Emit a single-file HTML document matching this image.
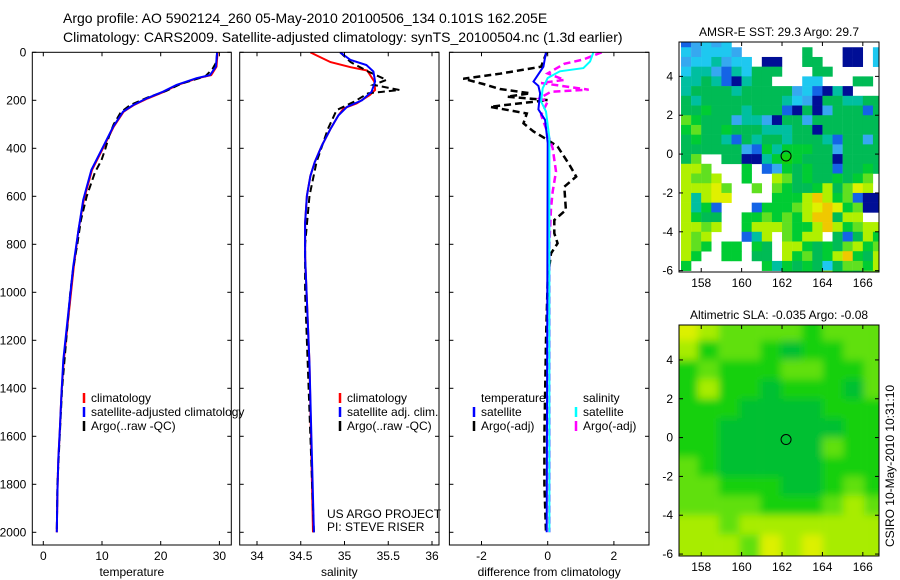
<!DOCTYPE html>
<html><head><meta charset="utf-8"><style>
body{margin:0;background:#fff}
svg{display:block;font-family:"Liberation Sans",sans-serif}
text{fill:#000}
</style></head><body>
<svg id="s" width="900" height="580" viewBox="0 0 900 580" xmlns="http://www.w3.org/2000/svg">
<text x="63" y="23" font-size="14">Argo profile: AO 5902124_260 05-May-2010 20100506_134 0.101S 162.205E</text>
<text x="63" y="42" font-size="14">Climatology: CARS2009. Satellite-adjusted climatology: synTS_20100504.nc (1.3d earlier)</text>
<g id="root"></g>
</svg>
<script>
// ---- data ----
const tempP   = [0,60,95,108,136,164,192,220,247,310,393,490,615,740,893,1282,1420,1559,1698,1837,2000];
const tempSat = [29.6,29.4,28.4,26.1,22.7,20.4,17.6,15.3,13.6,11.9,10.2,8.2,6.8,6.0,5.1,3.4,3.1,2.85,2.55,2.4,2.3];
const tempClim= [29.7,29.5,28.6,26.3,22.9,20.6,17.8,15.4,13.7,12.0,10.3,8.3,6.9,6.0,5.2,3.5,3.1,2.85,2.55,2.4,2.3];
const argoTP  = [0,40,70,100,130,160,190,220,250,300,350,400,450,500,600,700,800,900,1000,1200,1400,1600,1800,2000];
const argoT   = [29.6,29.5,28.8,27.6,23.6,21.0,17.6,14.8,13.2,12.0,11.2,10.6,9.9,8.8,7.4,6.4,5.8,5.1,4.6,3.9,3.2,2.8,2.4,2.3];
const salP    = [0,32,53,80,122,164,200,227,263,319,389,458,515,598,711,850,1300,2000];
const salSat  = [34.95,35.07,35.25,35.33,35.35,35.31,35.20,35.03,34.93,34.84,34.74,34.66,34.61,34.57,34.55,34.55,34.60,34.65];
const salClimP= [0,13,41,62,76,122,157,178,213,234,263,319,389,458,515,598,711,850,1300,2000];
const salClim = [34.61,34.68,34.84,35.07,35.26,35.34,35.35,35.29,35.14,34.99,34.93,34.84,34.74,34.66,34.61,34.57,34.55,34.55,34.60,34.64];
const argoSP  = [0,41,80,115,136,157,171,206,241,319,458,598,800,1000,1500,2000];
const argoS   = [34.95,35.07,35.27,35.48,35.33,35.63,35.27,35.11,34.91,34.81,34.68,34.60,34.55,34.55,34.60,34.65];
const dTP     = [0,60,89,110,132,153,171,185,199,227,255,296,330,365,393,469,518,560,657,699,754,796,838,950,1200,1600,1800,2000];
const dTArgo  = [-0.03,-0.2,-1.44,-2.55,-1.95,-1.44,-0.53,-1.23,0.0,-1.74,-0.63,-0.73,-0.43,0.0,0.3,0.66,0.86,0.5,0.55,0.2,0.2,0.3,0.1,0.0,-0.05,-0.1,-0.1,-0.05];
const dSP     = [0,30,48,88,115,128,156,164,192,205,261,317,400,497,580,650,800,2000];
const dSArgo  = [1.63,1.08,0.5,0.0,0.5,-0.2,1.24,0.1,-0.25,0.0,-0.2,-0.05,0.15,0.25,0.15,0.1,0.05,0.05];
const dTSatP  = [0,60,122,140,171,238,282,378,2000];
const dTSat   = [-0.05,-0.13,-0.43,-0.28,-0.23,-0.28,-0.08,0.0,-0.03];
const dSSatP  = [0,38,66,79,107,150,205,247,357,2000];
const dSSat   = [1.38,1.28,1.08,0.37,0.0,-0.15,-0.2,-0.05,0.05,0.05];
const sstRows = [
"bscsc...............",
"cscccs......m...BB.c",
"scctscc.BB..mm..BB.c",
"cttsbtcmmm...mm.....",
"ttmtbBtmm...cc...mm.",
"tmmmmtmmmmmscbBtB...",
"mtmmmmmmmmtcsBmmttmm",
"mmgmmmtmmmbBmBsmmmbm",
"lgmmmsttsBmmsmmmmmmm",
"glmmgmmmtttmmBmmmmmm",
"mgmmtbmtmmtmmmtbmmsm",
"mmmmmmsbgtgggmmsmmmm",
"ml..mmBBtgGgmmmBmmmm",
"yyl...g.bsgmgmmbmmgm",
"ylly..g..ylmgmmgmgl.",
"yyyYl..l.lgmmgymlYy.",
"ytyYY....gggyoyglbBB",
"ytgb...bggglyYoYglBB",
"ygmm..gglglgyoomyy..",
"yyly..gyyylggyoyglyy",
"yly...bty.lgyy.mbmyg",
"ylg.gg.gm.yygmgmlygl",
"yg..gg.mm.yglmgyogmy",
"g.......gtgmgmcmllgy",
"..........ggggyggmll"];
const slaRows = ["4322221222","3122101122","1211122112","1311011102","1110000111","1100000011","1100000211","2100000111","2211100121","2222111232","3323333333","3332434333"];
const yTicks = [0,200,400,600,800,1000,1200,1400,1600,1800,2000];
const tTicks = [0,10,20,30], sTicks=[34,34.5,35,35.5,36], dTicks=[-2,0,2];
const latTicks=[4,2,0,-2,-4,-6], lonTicks=[158,160,162,164,166];

const NS="http://www.w3.org/2000/svg", root=document.getElementById('root');
function el(t,a,p){const e=document.createElementNS(NS,t);for(const k in a)e.setAttribute(k,a[k]);(p||root).appendChild(e);return e;}
const py=p=>52.3+p*0.24;
const panels=[
 {x0:32.3,x1:231.3,fx:v=>43.3+v*5.87,ticks:tTicks,label:'temperature',name:'temperature-panel'},
 {x0:239.7,x1:439,fx:v=>257+(v-34)*87.5,ticks:sTicks,label:'salinity',name:'salinity-panel'},
 {x0:449.4,x1:649,fx:v=>547.7+v*33.1,ticks:dTicks,label:'difference from climatology',name:'difference-panel'}];
const yTop=52.3,yBot=545;
panels.forEach((P,i)=>{
 const g=el('g',{});
 
 
 const cp=el('clipPath',{id:'c'+i},g);el('rect',{x:P.x0,y:yTop,width:P.x1-P.x0,height:yBot-yTop},cp);
 P.g=el('g',{'clip-path':'url(#c'+i+')'},g);
 el('rect',{x:P.x0,y:yTop,width:P.x1-P.x0,height:yBot-yTop,fill:'none',stroke:'#000','stroke-width':1},g);
 yTicks.forEach(t=>{const y=py(t);
  el('line',{x1:P.x0,x2:P.x0+4,y1:y,y2:y,stroke:'#000'},g);el('line',{x1:P.x1-4,x2:P.x1,y1:y,y2:y,stroke:'#000'},g);
  if(i==0){const tx=el('text',{x:P.x0-6,y:y+4,'font-size':12,'text-anchor':'end'},g);tx.textContent=t;
   
   }
 });
 P.ticks.forEach(t=>{const x=P.fx(t);
  el('line',{x1:x,x2:x,y1:yBot,y2:yBot-4,stroke:'#000'},g);el('line',{x1:x,x2:x,y1:yTop,y2:yTop+4,stroke:'#000'},g);
  const tx=el('text',{x:x,y:yBot+15,'font-size':12,'text-anchor':'middle'},g);tx.textContent=t;
  
  
 });
 const xl=el('text',{x:(P.x0+P.x1)/2,y:576,'font-size':12,'text-anchor':'middle'},g);xl.textContent=P.label;
 
 
});
function line(P,ps,vs,col,w,dash,name){
 const d=ps.map((p,k)=>(k?'L':'M')+P.fx(vs[k]).toFixed(1)+','+py(p).toFixed(1)).join('');
 const e=el('path',{d:d,fill:'none',stroke:col,'stroke-width':w,'stroke-dasharray':dash||'none'},P.g);
 
 
}
const [P1,P2,P3]=panels;
line(P1,tempP,tempClim,'#f00',2,null,'temperature-climatology-line');
line(P1,argoTP,argoT,'#000',2,'7,4','temperature-argo-line');
line(P1,tempP,tempSat,'#00f',2,null,'temperature-satellite-line');
line(P2,salClimP,salClim,'#f00',2,null,'salinity-climatology-line');
line(P2,argoSP,argoS,'#000',2,'7,4','salinity-argo-line');
line(P2,salP,salSat,'#00f',2,null,'salinity-satellite-line');
line(P3,dTP,dTArgo,'#000',2.5,'7,4','temperature-diff-argo-line');
line(P3,dSP,dSArgo,'#f0f',2.5,'7,4','salinity-diff-argo-line');
line(P3,dTSatP,dTSat,'#00f',2,null,'temperature-diff-satellite-line');
line(P3,dSSatP,dSSat,'#0ff',2,null,'salinity-diff-satellite-line');
function legend(x,y,col,txt,name){
 el('line',{x1:x,x2:x,y1:y-9,y2:y+1,stroke:col,'stroke-width':2.5});
 const t=el('text',{x:x+7,y:y,'font-size':12});t.textContent=txt;
 
 
}
legend(84,402,'#f00','climatology','legend-climatology');
legend(84,416,'#00f','satellite-adjusted climatology','legend-satellite-adjusted');
legend(84,430,'#000','Argo(..raw -QC)','legend-argo');
legend(340,402,'#f00','climatology','legend-sal-climatology');
legend(340,416,'#00f','satellite adj. clim.','legend-sal-satellite');
legend(340,430,'#000','Argo(..raw -QC)','legend-sal-argo');
(()=>{const t=el('text',{x:481,y:402,'font-size':12});t.textContent='temperature';
 
 
 const s=el('text',{x:583,y:402,'font-size':12});s.textContent='salinity';
 
 })();
legend(474,416,'#00f','satellite','legend-diff-temp-satellite');
legend(474,430,'#000','Argo(-adj)','legend-diff-temp-argo');
legend(576,416,'#0ff','satellite','legend-diff-sal-satellite');
legend(576,430,'#f0f','Argo(-adj)','legend-diff-sal-argo');
(()=>{const a=el('text',{x:327,y:518,'font-size':12});a.textContent='US ARGO PROJECT';
 
 
 const b=el('text',{x:327,y:531,'font-size':12});b.textContent='PI: STEVE RISER';
 
 })();

// ---- maps ----
const MX0=679,MX1=879;
const lonX=l=>MX0+(l-156.9)*20.2;
function map(top,bot,latTop,latBot,title,name){
 const ly=la=>top+(latTop-la)*(bot-top)/(latTop-latBot);
 const g=el('g',{});
 
 
 const tt=el('text',{x:(MX0+MX1)/2,y:top-6,'font-size':12,'text-anchor':'middle'},g);tt.textContent=title;
 
 
 const cid='m'+name;const cp=el('clipPath',{id:cid},g);el('rect',{x:MX0,y:top,width:MX1-MX0,height:bot-top},cp);
 const inner=el('g',{'clip-path':'url(#'+cid+')'},g);
 return {g,inner,ly,top,bot};
}
function mapAxes(M){
 el('rect',{x:MX0,y:M.top,width:MX1-MX0,height:M.bot-M.top,fill:'none',stroke:'#000'},M.g);
 latTicks.forEach(t=>{const y=M.ly(t);
  el('line',{x1:MX0,x2:MX0+4,y1:y,y2:y,stroke:'#000'},M.g);el('line',{x1:MX1-4,x2:MX1,y1:y,y2:y,stroke:'#000'},M.g);
  const tx=el('text',{x:MX0-6,y:y+4,'font-size':12,'text-anchor':'end'},M.g);tx.textContent=t;
  
  });
 lonTicks.forEach(t=>{const x=lonX(t);
  el('line',{x1:x,x2:x,y1:M.bot,y2:M.bot-4,stroke:'#000'},M.g);el('line',{x1:x,x2:x,y1:M.top,y2:M.top+4,stroke:'#000'},M.g);
  const tx=el('text',{x:x,y:M.bot+15,'font-size':12,'text-anchor':'middle'},M.g);tx.textContent=t;
  
  });
 const c=el('circle',{cx:lonX(162.2),cy:M.ly(-0.1),r:5,fill:'none',stroke:'#000'},M.g);
 
 
}
const sstPal={B:'#000e96',b:'#1464e6',c:'#1ec8f0',s:'#36a8f0',t:'#00bfa0',m:'#00bb55',g:'#00cc33',G:'#10d010',l:'#60e020',y:'#b0f000',Y:'#e0f000',o:'#f0c800'};
const M1=map(42,272,5.77,-6.07,'AMSR-E SST: 29.3 Argo: 29.7','sst-map');
sstRows.forEach((r,i)=>{for(let j=0;j<20;j++){const ch=r[j];if(!sstPal[ch])continue;
 const la=6.0-i*0.5,lo=157+j*0.5;
 const c=el('rect',{x:lonX(lo),y:M1.ly(la),width:10.3,height:M1.ly(la-0.5)-M1.ly(la)+0.3,fill:sstPal[ch]},M1.inner);
 
 }});
mapAxes(M1);
const slaPal=['#00c030','#18d010','#60e010','#a8ec00','#dcf000'];
const M2=map(325,556,5.8,-6.1,'Altimetric SLA: -0.035 Argo: -0.08','sla-map');
el('filter',{id:'bl',x:'-10%',y:'-10%',width:'120%',height:'120%'},M2.g).appendChild(document.createElementNS(NS,'feGaussianBlur')).setAttribute('stdDeviation','4');
const sg=el('g',{filter:'url(#bl)'},M2.inner);
slaRows.forEach((r,i)=>{for(let j=0;j<10;j++){
 const la=6.0-i*1.0,lo=156.8+j*1.03;
 const c=el('rect',{x:lonX(lo)-(j==0?20:0),y:M2.ly(la)-(i==0?20:0),width:21+(j==0||j==9?20:0),height:M2.ly(la-1)-M2.ly(la)+1+(i==0||i==11?20:0),fill:slaPal[+r[j]]},sg);
 
 }});
mapAxes(M2);
(()=>{const t=el('text',{x:894,y:466,'font-size':12,'text-anchor':'middle',transform:'rotate(-90 894 466)'});
 t.textContent='CSIRO 10-May-2010 10:31:10';
 
 })();
</script>
</body></html>
